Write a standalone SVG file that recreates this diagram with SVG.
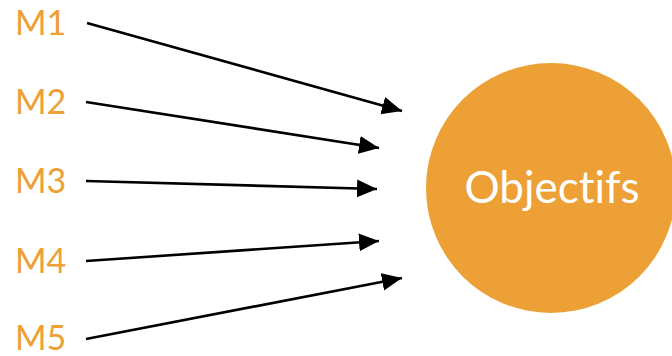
<svg xmlns="http://www.w3.org/2000/svg" width="672" height="356" viewBox="0 0 672 356">
<style>
.lbl{font-family:"Lato","Open Sans","DejaVu Sans",sans-serif;font-size:34px;fill:#EDA035}
.conn{stroke:#000;stroke-width:2.6;fill:none;marker-end:url(#ah)}
.ttl{font-family:"Lato","Open Sans","DejaVu Sans",sans-serif;font-size:44px;fill:#fff;text-anchor:middle;font-variant-ligatures:none}
</style>
<defs>
<marker id="ah" markerUnits="userSpaceOnUse" markerWidth="20" markerHeight="20" viewBox="0 0 18 16" refX="18" refY="8" orient="auto">
<path d="M0,0 L18,8 L0,16 Z" fill="#000"/>
</marker>
</defs>
<g id="objectifs">
<circle cx="551" cy="188" r="125" fill="#EDA035"/>
<text class="ttl" x="552" y="203">Objectifs</text>
</g>
<g id="m1"><text class="lbl" x="15" y="35">M1</text></g>
<g id="m2"><text class="lbl" x="15" y="114">M2</text></g>
<g id="m3"><text class="lbl" x="15" y="193">M3</text></g>
<g id="m4"><text class="lbl" x="15" y="273">M4</text></g>
<g id="m5"><text class="lbl" x="15" y="350">M5</text></g>
<g id="connectors">
<line class="conn" x1="87" y1="23" x2="402" y2="111"/>
<line class="conn" x1="86" y1="102" x2="379" y2="148"/>
<line class="conn" x1="86" y1="181" x2="377" y2="189"/>
<line class="conn" x1="86" y1="261" x2="379" y2="241"/>
<line class="conn" x1="86" y1="339" x2="402" y2="278"/>
</g>
</svg>
